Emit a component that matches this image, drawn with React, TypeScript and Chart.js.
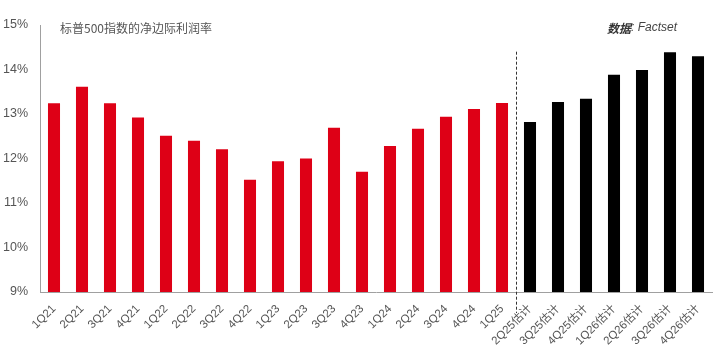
import React, { useEffect, useRef } from "react";
import { Chart, registerables } from "chart.js";

Chart.register(...registerables);

const categories = [
  "1Q21", "2Q21", "3Q21", "4Q21",
  "1Q22", "2Q22", "3Q22", "4Q22",
  "1Q23", "2Q23", "3Q23", "4Q23",
  "1Q24", "2Q24", "3Q24", "4Q24",
  "1Q25",
  "2Q25估计", "3Q25估计", "4Q25估计",
  "1Q26估计", "2Q26估计", "3Q26估计", "4Q26估计",
];

const margins = [
  13.24, 13.61, 13.24, 12.92,
  12.51, 12.40, 12.21, 11.52,
  11.94, 12.00, 12.69, 11.70,
  12.28, 12.67, 12.94, 13.11,
  13.25,
  12.82, 13.27, 13.34,
  13.88, 13.99, 14.39, 14.30,
];

const actualCount = 17; // first 17 are reported, rest are estimates
const yTicks = [9, 10, 11, 12, 13, 14, 15];
const titleText = "标普500指数的净边际利润率";
const sourceLabel = "数据";
const sourceText = ": Factset";
const dividerTop = 14.4;

const RED = "rgb(222,0,22)";
const BLACK = "#000000";
const FONT = "'Liberation Sans', Arial, 'Noto Sans CJK SC', sans-serif";
const CJK = "'Noto Sans CJK SC', 'Liberation Sans', sans-serif";

const overlayPlugin = {
  id: "overlay",
  afterDatasetsDraw(chart: any) {
    const { ctx, chartArea, scales } = chart;
    const x = scales.x;
    const y = scales.y;
    ctx.save();
    // divider between reported and estimates
    const xd = (x.getPixelForValue(actualCount - 1) + x.getPixelForValue(actualCount)) / 2;
    ctx.strokeStyle = "#333";
    ctx.lineWidth = 1;
    ctx.setLineDash([3, 2]);
    ctx.beginPath();
    ctx.moveTo(Math.round(xd) + 0.5, y.getPixelForValue(dividerTop));
    ctx.lineTo(Math.round(xd) + 0.5, chartArea.bottom + 21);
    ctx.stroke();
    ctx.setLineDash([]);

    const ty = chartArea.top + 3;
    // title
    ctx.fillStyle = "#555";
    ctx.font = `12px ${CJK}`;
    ctx.textBaseline = "middle";
    ctx.textAlign = "left";
    ctx.fillText(titleText, chartArea.left + 20, ty);

    // source
    ctx.textAlign = "left";
    ctx.font = `italic 12px ${FONT}`;
    const w2 = ctx.measureText(sourceText).width;
    ctx.font = `italic bold 12px ${CJK}`;
    const w1 = ctx.measureText(sourceLabel).width;
    const right = chartArea.right - 35;
    ctx.fillStyle = "#333";
    ctx.fillText(sourceLabel, right - w2 - w1, ty);
    ctx.font = `italic 12px ${FONT}`;
    ctx.fillStyle = "#444";
    ctx.fillText(sourceText, right - w2, ty);
    ctx.restore();
  },
};

export default function App() {
  const ref = useRef<HTMLCanvasElement>(null);
  useEffect(() => {
    if (!ref.current) return;
    const chart = new Chart(ref.current, {
      type: "bar",
      data: {
        labels: categories,
        datasets: [
          {
            data: margins,
            backgroundColor: margins.map((_, i) => (i < actualCount ? RED : BLACK)),
            borderWidth: 0,
            categoryPercentage: 1,
            barPercentage: 0.43,
          },
        ],
      },
      options: {
        animation: false,
        responsive: true,
        maintainAspectRatio: false,
        layout: { padding: { top: 25, right: 13, left: 0, bottom: 0 } },
        plugins: {
          legend: { display: false },
          tooltip: { enabled: false },
          title: { display: false },
        },
        scales: {
          x: {
            grid: { display: true, drawOnChartArea: false, drawTicks: false },
            border: { display: true, color: "#a0a0a0", width: 1 },
            ticks: {
              autoSkip: false,
              minRotation: 45,
              maxRotation: 45,
              padding: 10,
              color: "#555",
              font: { size: 11.5, family: FONT },
            },
            afterFit: (s: any) => {
              s.height = 63;
            },
          },
          y: {
            min: 9,
            max: 15,
            afterBuildTicks: (s: any) => {
              s.ticks = yTicks.map((v) => ({ value: v }));
            },
            grid: { display: true, drawOnChartArea: false, drawTicks: false },
            border: { display: true, color: "#a0a0a0", width: 1 },
            ticks: {
              padding: 12,
              color: "#555",
              font: { size: 12.5, family: FONT },
              callback: (v: any) => `${v}%`,
            },
            afterFit: (s: any) => {
              s.width = 40;
            },
          },
        },
      },
      plugins: [overlayPlugin],
    });
    return () => chart.destroy();
  }, []);
  return (
    <div style={{ position: "absolute", left: 0, top: 0, width: 725, height: 355, background: "#fff" }}>
      <canvas ref={ref} />
    </div>
  );
}
